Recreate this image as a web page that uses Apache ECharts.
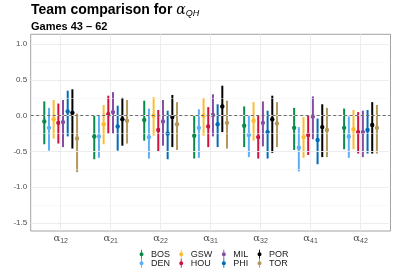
<!DOCTYPE html>
<html>
<head>
<meta charset="utf-8">
<script src="https://cdn.jsdelivr.net/npm/echarts@6/dist/echarts.min.js"></script>
<style>html,body{margin:0;padding:0;background:#fff}#c{width:393px;height:273px}</style>
</head>
<body>
<div id="c"></div>
<script>
// ---- data ----
const categorySubs = ['12', '21', '22', '31', '32', '41', '42']; // alpha_{..}
const teams = ['BOS', 'DEN', 'GSW', 'HOU', 'MIL', 'PHI', 'POR', 'TOR'];
const teamColors = ['#0A8A48', '#5AAFF7', '#FDBB30', '#CE1141', '#874CA3', '#006BB6', '#000000', '#B4975A'];
// point estimates, one row per team, columns follow categorySubs
const mid = [
  [-0.08, -0.29, -0.06, -0.28, -0.14, -0.17, -0.17],
  [-0.17, -0.29, -0.30, -0.17, -0.27, -0.45, -0.29],
  [-0.05, -0.12, 0.00, 0.00, -0.07, -0.30, -0.19],
  [-0.10, 0.02, -0.20, -0.15, -0.30, -0.27, -0.23],
  [-0.09, 0.05, -0.08, 0.01, -0.10, -0.01, -0.23],
  [0.06, -0.15, -0.25, -0.12, -0.23, -0.34, -0.20],
  [0.04, -0.05, -0.02, 0.13, -0.05, -0.16, -0.13],
  [-0.32, -0.07, -0.12, -0.10, -0.11, -0.20, -0.17]
];
const lower = [
  [-0.40, -0.61, -0.35, -0.60, -0.44, -0.48, -0.47],
  [-0.49, -0.59, -0.60, -0.59, -0.58, -0.78, -0.59],
  [-0.32, -0.40, -0.28, -0.28, -0.35, -0.59, -0.47],
  [-0.39, -0.25, -0.50, -0.44, -0.60, -0.55, -0.53],
  [-0.44, -0.25, -0.42, -0.29, -0.43, -0.33, -0.58],
  [-0.29, -0.49, -0.61, -0.44, -0.60, -0.68, -0.53],
  [-0.46, -0.42, -0.44, -0.23, -0.52, -0.58, -0.53],
  [-0.79, -0.39, -0.48, -0.46, -0.44, -0.58, -0.53]
];
const upper = [
  [0.20, 0.00, 0.21, 0.00, 0.13, 0.11, 0.10],
  [0.11, 0.00, 0.10, 0.09, 0.01, -0.16, -0.01],
  [0.22, 0.15, 0.26, 0.25, 0.19, -0.02, 0.08],
  [0.17, 0.28, 0.08, 0.12, 0.00, 0.01, 0.05],
  [0.22, 0.33, 0.22, 0.30, 0.20, 0.27, 0.07],
  [0.35, 0.14, 0.07, 0.16, 0.07, -0.04, 0.08],
  [0.37, 0.25, 0.29, 0.42, 0.28, 0.16, 0.19],
  [0.03, 0.22, 0.19, 0.21, 0.19, 0.11, 0.15]
];
const yTicks = [-1.5, -1.0, -0.5, 0.0, 0.5, 1.0];
const yMinorTicks = [-1.25, -0.75, -0.25, 0.25, 0.75];

// ---- chart ----
const FONT = 'Liberation Sans';
const dodgeWidth = 0.75;
const nT = teams.length;
const catIdx = categorySubs.map((_, i) => i);

const series = [];
series.push({
  type: 'line', data: [], silent: true, z: 1,
  markLine: {
    silent: true, symbol: 'none', animation: false, label: {show: false},
    data: [
      ...yTicks.map(v => ({yAxis: v, lineStyle: {color: '#ebebeb', width: 0.9, type: 'solid'}})),
      ...yMinorTicks.map(v => ({yAxis: v, lineStyle: {color: '#f3f3f3', width: 0.5, type: 'solid'}})),
      ...catIdx.map(v => ({xAxis: v, lineStyle: {color: '#ebebeb', width: 0.9, type: 'solid'}}))
    ]
  }
});
series.push({
  type: 'line', data: [], silent: true, z: 3,
  markLine: {
    silent: true, symbol: 'none', animation: false, label: {show: false},
    data: [{yAxis: 0, lineStyle: {color: '#333', width: 0.7, type: [3, 2.5]}}]
  }
});

teams.forEach((t, ti) => {
  const offset = (ti - (nT - 1) / 2) * (dodgeWidth / nT);
  series.push({
    name: t, type: 'custom', z: 4,
    itemStyle: {color: teamColors[ti]},
    encode: {x: 0, y: [1, 2, 3]},
    data: catIdx.map(ci => [ci + offset, lower[ti][ci], mid[ti][ci], upper[ti][ci]]),
    renderItem: function (params, api) {
      const x = api.value(0);
      const lo = api.coord([x, api.value(1)]);
      const md = api.coord([x, api.value(2)]);
      const hi = api.coord([x, api.value(3)]);
      const color = api.visual('color');
      return {
        type: 'group', children: [
          {type: 'line', shape: {x1: lo[0], y1: lo[1], x2: hi[0], y2: hi[1]}, style: {stroke: color, lineWidth: 2}},
          {type: 'circle', shape: {cx: md[0], cy: md[1], r: 2.2}, style: {fill: color}}
        ]
      };
    }
  });
});

const legendIcon = 'path://M4,0H6V20H4Z M5,5.5A4.5,4.5 0 1 1 4.99,5.5Z';
const legendCols = [[0, 1], [2, 3], [4, 5], [6, 7]];
const legendLeft = [139.5, 179.2, 221.8, 257.5];
const legends = legendCols.map((col, k) => ({
  orient: 'vertical', left: legendLeft[k], top: 249.8, padding: 0,
  itemWidth: 5, itemHeight: 9, itemGap: 0, icon: legendIcon,
  data: col.map(i => teams[i]),
  textStyle: {fontFamily: FONT, fontSize: 9, color: '#1a1a1a', padding: [0, 0, 0, 2]}
}));

const chart = echarts.init(document.getElementById('c'), null, {renderer: 'canvas'});
chart.setOption({
  animation: false,
  backgroundColor: '#fff',
  title: [
    {
      left: 31, top: 2, padding: 0,
      text: '{b|Team comparison for }{a|α}{s|QH}',
      textStyle: {
        rich: {
          b: {fontFamily: FONT, fontWeight: 'bold', fontSize: 14, color: '#000'},
          a: {fontFamily: 'DejaVu Serif', fontStyle: 'italic', fontWeight: 'normal', fontSize: 14, color: '#000'},
          s: {fontFamily: FONT, fontStyle: 'italic', fontWeight: 'normal', fontSize: 9, color: '#000', padding: [7, 0, 0, 0]}
        }
      }
    },
    {
      left: 31, top: 21, padding: 0,
      text: 'Games 43 – 62',
      textStyle: {fontFamily: FONT, fontWeight: 'bold', fontSize: 11, color: '#000'}
    }
  ],
  legend: legends,
  grid: {left: 30.7, right: 2.5, top: 34.3, bottom: 42, show: true, borderColor: '#8c8c8c', borderWidth: 0.8, backgroundColor: 'transparent', containLabel: false, outerBoundsMode: 'none'},
  xAxis: {
    type: 'value', min: -0.6, max: 6.6,
    axisLine: {show: false},
    splitLine: {show: false},
    axisTick: {show: true, customValues: catIdx, length: 2.7, lineStyle: {color: '#8c8c8c', width: 0.8}},
    axisLabel: {
      customValues: catIdx, margin: 1,
      formatter: v => '{a|α}{s|' + categorySubs[Math.round(v)] + '}',
      rich: {
        a: {fontFamily: 'DejaVu Serif', fontSize: 10, color: '#4d4d4d'},
        s: {fontFamily: FONT, fontSize: 7, color: '#4d4d4d', padding: [6, 0, 0, 0]}
      }
    }
  },
  yAxis: {
    type: 'value', min: -1.615, max: 1.14,
    name: 'Parameter value', nameLocation: 'middle', nameGap: 16, nameRotate: 90,
    nameTextStyle: {fontFamily: FONT, fontWeight: 'bold', fontSize: 13.5, color: '#000'},
    axisLine: {show: false},
    splitLine: {show: false},
    axisTick: {show: true, customValues: yTicks, length: 2.7, lineStyle: {color: '#8c8c8c', width: 0.8}},
    axisLabel: {
      customValues: yTicks, margin: 3.5,
      formatter: v => v.toFixed(1),
      fontFamily: FONT, fontSize: 8, color: '#4d4d4d'
    }
  },
  series: series
});
</script>
</body>
</html>
